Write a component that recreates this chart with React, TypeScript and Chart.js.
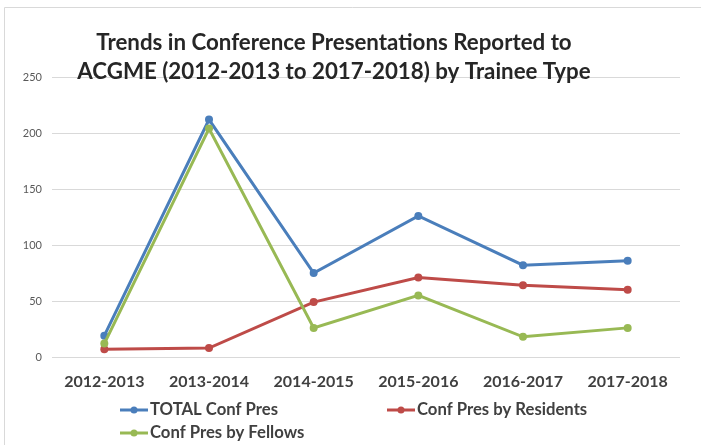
import React, { useEffect, useRef } from "react";
import { Chart, registerables } from "chart.js";

Chart.register(...registerables);

const categories = ["2012-2013", "2013-2014", "2014-2015", "2015-2016", "2016-2017", "2017-2018"];
const totalConfPres = [19, 212, 75, 126, 82, 86];
const residentsConfPres = [7, 8, 49, 71, 64, 60];
const fellowsConfPres = [12, 204, 26, 55, 18, 26];
const seriesNames = ["TOTAL Conf Pres", "Conf Pres by Residents", "Conf Pres by Fellows"];
const titleLines = [
  "Trends in Conference Presentations Reported to",
  "ACGME (2012-2013 to 2017-2018) by Trainee Type",
];
const yMax = 250;
const yStep = 50;

const BLUE = "#4A7EBB";
const RED = "#BE4B48";
const GREEN = "#98B954";
const FONT = "Lato, 'Open Sans', sans-serif";

const decorPlugin = {
  id: "decor",
  beforeDraw(chart: any) {
    const ctx = chart.ctx;
    ctx.save();
    ctx.strokeStyle = "#d9d9d9";
    ctx.lineWidth = 1;
    ctx.beginPath();
    ctx.moveTo(4.5, chart.height);
    ctx.lineTo(4.5, 7.5);
    ctx.lineTo(chart.width, 7.5);
    ctx.stroke();
    ctx.restore();
  },
  afterDraw(chart: any) {
    const ctx = chart.ctx;
    ctx.save();
    // title
    ctx.fillStyle = "#262626";
    ctx.font = `bold 22.3px ${FONT}`;
    ctx.textAlign = "center";
    ctx.textBaseline = "middle";
    ctx.fillText(titleLines[0], 334, 43);
    ctx.fillText(titleLines[1], 334, 72);
    // legend
    const items = [
      { x: 120, y: 410 },
      { x: 387, y: 410 },
      { x: 120, y: 433 },
    ];
    ctx.font = `bold 16.7px ${FONT}`;
    ctx.textAlign = "left";
    chart.data.datasets.forEach((ds: any, i: number) => {
      const p = items[i];
      ctx.strokeStyle = ds.borderColor;
      ctx.lineWidth = 3;
      ctx.beginPath();
      ctx.moveTo(p.x, p.y);
      ctx.lineTo(p.x + 28, p.y);
      ctx.stroke();
      ctx.fillStyle = ds.borderColor;
      ctx.beginPath();
      ctx.arc(p.x + 14, p.y, 3.5, 0, Math.PI * 2);
      ctx.fill();
      ctx.fillStyle = "#404040";
      ctx.fillText(seriesNames[i], p.x + 30, p.y);
    });
    ctx.restore();
  },
};

export default function App() {
  const ref = useRef<HTMLCanvasElement>(null);
  useEffect(() => {
    document.body.style.margin = "0";
    const mk = (label: string, data: number[], color: string, order: number) => ({
      label,
      data,
      borderColor: color,
      backgroundColor: color,
      borderWidth: 3,
      pointRadius: 4,
      pointHoverRadius: 4,
      pointBorderWidth: 0,
      tension: 0,
      order,
    });
    const chart = new Chart(ref.current!, {
      type: "line",
      data: {
        labels: categories,
        datasets: [
          mk(seriesNames[0], totalConfPres, BLUE, 3),
          mk(seriesNames[1], residentsConfPres, RED, 2),
          mk(seriesNames[2], fellowsConfPres, GREEN, 1),
        ],
      },
      options: {
        animation: false,
        responsive: false,
        layout: { padding: { left: 0, right: 21, top: 77, bottom: 0 } },
        plugins: {
          legend: { display: false },
          title: { display: false },
          tooltip: { enabled: false },
        },
        scales: {
          x: {
            offset: true,
            grid: { display: false, drawTicks: false },
            border: { display: false },
            ticks: {
              padding: 15,
              color: "#404040",
              font: { family: FONT, size: 16, weight: "bold" },
              maxRotation: 0,
              autoSkip: false,
            },
            afterFit(s: any) {
              s.height = 88;
            },
          },
          y: {
            min: 0,
            max: yMax,
            ticks: {
              stepSize: yStep,
              padding: 10,
              color: "#595959",
              font: { family: FONT, size: 11 },
            },
            grid: { color: "#d9d9d9", drawTicks: false, lineWidth: 1 },
            border: { display: false },
            afterFit(s: any) {
              s.width = 52;
            },
          },
        },
      },
      plugins: [decorPlugin],
    });
    return () => chart.destroy();
  }, []);
  return (
    <div style={{ width: 701, height: 445 }}>
      <canvas ref={ref} width={701} height={445} style={{ display: "block" }} />
    </div>
  );
}
